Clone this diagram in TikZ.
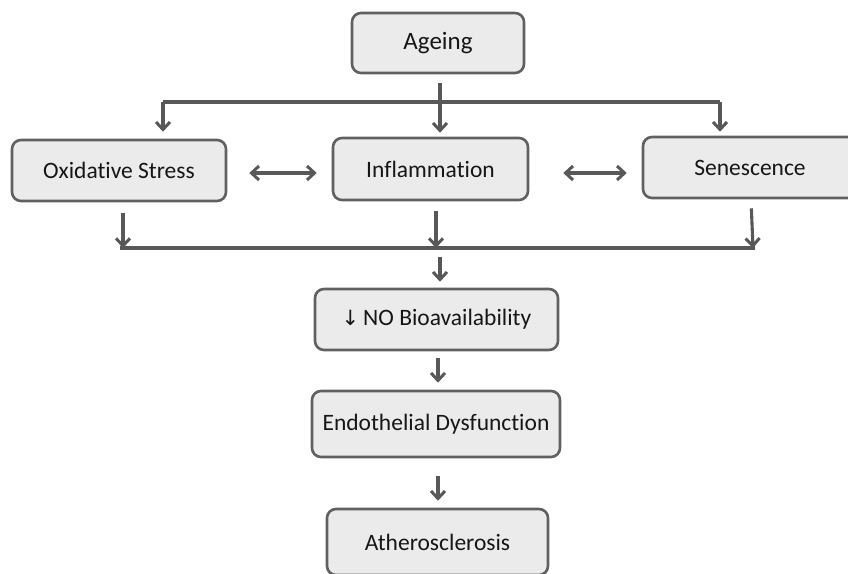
\documentclass[tikz,border=0pt]{standalone}
\usepackage{fontspec}
\setmainfont{Carlito}[Ligatures=NoCommon]
\newfontfamily\symfont{DejaVu Sans}
\usetikzlibrary{arrows.meta}
\definecolor{boxfill}{HTML}{EBEBEB}
\definecolor{boxline}{HTML}{606060}
\definecolor{arrline}{HTML}{585858}
\definecolor{txt}{HTML}{161616}
\tikzset{
  box/.style={draw=boxline, line width=2.6pt, fill=boxfill, rounded corners=9pt,
    align=center, inner sep=0pt, text=txt, font=\fontsize{23.5}{26}\selectfont},
  tip/.tip={Straight Barb[length=7.5pt,width=14pt,line width=3pt]},
  arr/.style={draw=arrline, line width=3.1pt, -tip},
  darr/.style={draw=arrline, line width=3.1pt, tip-tip},
  ln/.style={draw=arrline, line width=3.1pt},
}
\begin{document}
\begin{tikzpicture}[x=1pt,y=-1pt]
\useasboundingbox (0,0) rectangle (848,573);
\begin{scope}
\clip (0,0) rectangle (848,573);
\node[box, minimum width=172pt, minimum height=60pt, font=\fontsize{25}{28}\selectfont] (age) at (438,43) {Ageing};
\node[box, minimum width=214pt, minimum height=61pt] (ox) at (119,170.5) {Oxidative Stress};
\node[box, minimum width=195pt, minimum height=62pt] (inf) at (430.5,169) {Inflammation};
\node[box, minimum width=230pt, minimum height=61pt, text width=230pt] (sen) at (758,167.5) {\hspace*{-16pt}Senescence};
\node[box, minimum width=243pt, minimum height=61pt] (no) at (436.5,319.5) {{\symfont\fontsize{21}{24}\selectfont ↓}\,NO Bioavailability};
\node[box, minimum width=248pt, minimum height=66pt] (endo) at (436,424) {Endothelial Dysfunction};
\node[box, minimum width=221pt, minimum height=66pt] (ath) at (437.5,542) {Atherosclerosis};
\end{scope}
% top distribution
\coordinate (tl) at (163,102);
\coordinate (tr) at (720,102);
\coordinate (bl) at (120,248);
\coordinate (br) at (755,248);
\draw[arr, shorten <=9pt, shorten >=4pt] (age.south -| 440,0) -- (inf.north -| 440,0);
\draw[ln] (tl) -- (tr);
\draw[arr, shorten >=7pt] (tl) -- (tl |- ox.north);
\draw[arr, shorten >=4pt] (tr) -- (tr |- sen.north);
\draw[darr, shorten <=22pt, shorten >=15pt] (ox.east |- 0,173) -- (inf.west |- 0,173);
\draw[darr, shorten <=34pt, shorten >=15pt] (inf.east |- 0,173) -- (sen.west |- 0,173);
% bottom collection
\draw[ln] (bl) -- (br);
\draw[arr, shorten <=11pt] (ox.south -| 123,0) -- (123,248);
\draw[arr, shorten <=10pt] (inf.south -| 436,0) -- (436,248);
\draw[arr, shorten <=9pt] (sen.south -| 751,0) -- (753,248);
\draw[arr, shorten <=9pt, shorten >=6pt] (440,248) -- (no.north -| 440,0);
\draw[arr, shorten <=7pt, shorten >=7pt] (no.south -| 438,0) -- (endo.north -| 438,0);
\draw[arr, shorten <=18pt, shorten >=7pt] (endo.south -| 438,0) -- (ath.north -| 438,0);
\end{tikzpicture}
\end{document}
